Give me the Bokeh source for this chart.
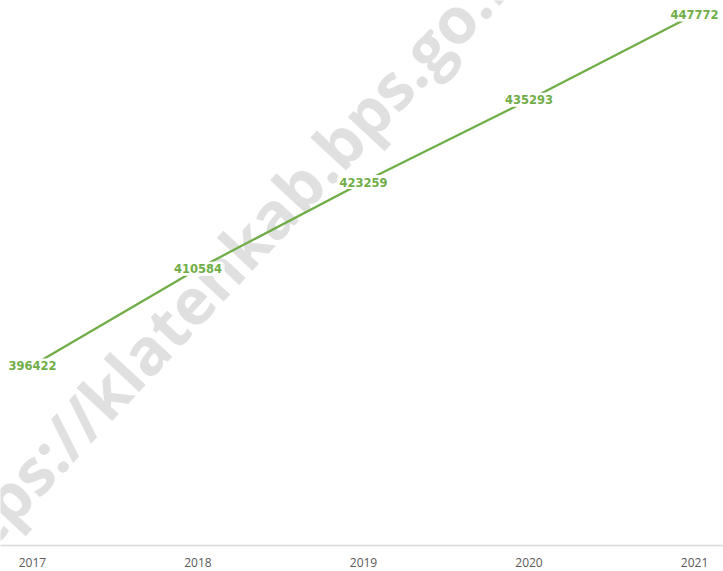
from bokeh.plotting import figure
from bokeh.models import ColumnDataSource, LabelSet, Label, Range1d, FixedTicker
from bokeh.core.properties import value
from bokeh.embed import file_html
from bokeh.resources import INLINE

years = [2017, 2018, 2019, 2020, 2021]
values = [396422, 410584, 423259, 435293, 447772]
value_labels = [str(v) for v in values]

src = ColumnDataSource(dict(x=years, y=values, lab=value_labels))

p = figure(frame_width=723, frame_height=545, output_backend="svg",
           toolbar_location=None, min_border=0,
           x_range=Range1d(2016.807, 2021.175), y_range=Range1d(370091, 449816))
p.outline_line_color = None
p.grid.grid_line_color = None
p.yaxis.visible = False
p.background_fill_color = "white"
p.border_fill_color = "white"

xa = p.xaxis[0]
xa.ticker = FixedTicker(ticks=years)
xa.axis_line_color = "#d9d9d9"
xa.axis_line_width = 1.5
xa.major_tick_line_color = None
xa.minor_tick_line_color = None
xa.major_label_text_font = "Open Sans"
xa.major_label_text_font_size = "12px"
xa.major_label_text_color = "#595959"
xa.major_label_standoff = 6

wm = Label(x=2018.15, y=410900, text="https://klatenkab.bps.go.id",
           angle=47, angle_units="deg", text_align="center", text_baseline="middle",
           text_font="Open Sans", text_font_style="bold", text_font_size="64px",
           text_color="#e0e0e0", level="underlay")
p.add_layout(wm)

p.line("x", "y", source=src, line_color="#70ad47", line_width=2.25)

labels = LabelSet(x="x", y="y", text="lab", source=src, text_align="center",
                  text_baseline="middle", text_font=value("DejaVu Sans"),
                  text_font_style="bold", text_font_size="11.5px",
                  text_color="#70ad47", background_fill_color="white",
                  border_line_color="white", border_line_width=5)
p.add_layout(labels)

open("out.html", "w").write(file_html(p, INLINE))
